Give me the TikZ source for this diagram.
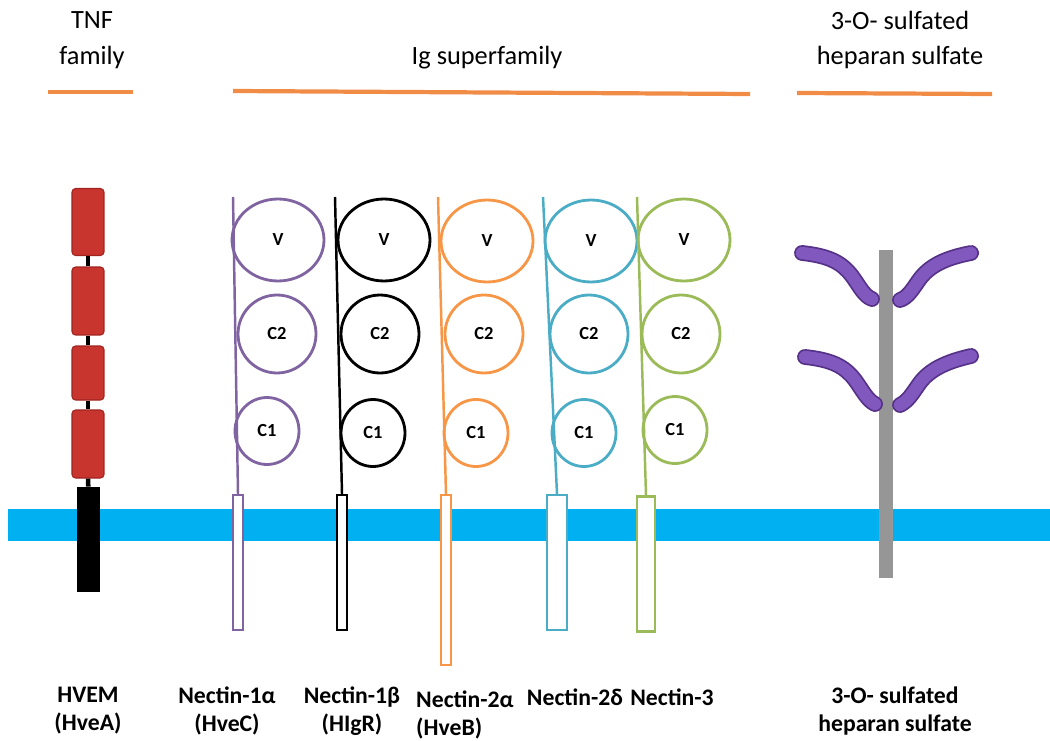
\documentclass[tikz,border=0pt]{standalone}
\usepackage{fontspec}
\setmainfont{Carlito}
\usetikzlibrary{shapes.geometric}
\definecolor{famorange}{RGB}{240,140,70}
\definecolor{membblue}{RGB}{0,176,240}
\definecolor{tnfred}{RGB}{200,52,46}
\definecolor{tnfdark}{RGB}{160,36,32}
\definecolor{npurple}{RGB}{128,100,162}
\definecolor{norange}{RGB}{247,150,70}
\definecolor{nteal}{RGB}{75,172,198}
\definecolor{ngreen}{RGB}{155,187,89}
\definecolor{hsgray}{RGB}{150,150,150}
\definecolor{sugarpurple}{RGB}{128,88,190}
\definecolor{sugardark}{RGB}{85,50,135}

\begin{document}
\begin{tikzpicture}[
  x=0.02cm, y=-0.02cm,
  family/.style={font=\fontsize{15}{20.4}\selectfont,align=center},
  famline/.style={line width=2.4pt,famorange},
  rname/.style={font=\bfseries\fontsize{13.5}{15.9}\selectfont,align=center},
  vdom/.style={draw,ellipse,line width=1.6pt,inner sep=0pt,minimum width=1.84cm,minimum height=1.64cm,font=\bfseries\fontsize{10.5}{12}\selectfont},
  ctwo/.style={vdom,minimum width=1.56cm,minimum height=1.56cm},
  cone/.style={vdom,minimum width=1.28cm,minimum height=1.34cm},
  tm/.style={draw,rectangle,line width=1.3pt,fill=white,inner sep=0pt,minimum width=0.2cm,minimum height=2.7cm},
  stalk/.style={line width=1.4pt},
  crd/.style={draw=tnfdark,fill=tnfred,rounded corners=2pt,line width=0.6pt,inner sep=0pt,minimum width=0.64cm},
  sugar/.style={line width=7pt,line cap=round,sugarpurple,preaction={draw=sugardark,line width=9pt,line cap=round}}
]
\useasboundingbox (0,0) rectangle (1050,740);

% families
\node[family] (tnf) at (92,40) {TNF\\family};
\node[family] (igsf) at (487,58) {Ig superfamily};
\node[family] (hsfam) at (900,40) {3-O- sulfated\\heparan sulfate};
\draw[famline] (48,92) -- (133,92);
\draw[famline] (233,91) -- (750,94);
\draw[famline] (797,93) -- (992,94);

% membrane
\fill[membblue] (8,509) rectangle (1050,541);

% HVEM
\node[crd,minimum height=1.34cm] (d1) at (88,222) {};
\node[crd,minimum height=1.36cm] (d2) at (88,301) {};
\node[crd,minimum height=1.08cm] (d3) at (88,373) {};
\node[crd,minimum height=1.36cm] (d4) at (88,444) {};
\node[fill=black,inner sep=0pt,minimum width=0.46cm,minimum height=2.1cm] (tm0) at (88.5,539.5) {};
\draw[line width=2.6pt] (d1) -- (d2);
\draw[line width=2.6pt] (d2) -- (d3);
\draw[line width=2.6pt] (d3) -- (d4);
\draw[line width=2.6pt] (d4) -- (tm0);

% Nectin-1 alpha
\coordinate (s1) at (233,197);
\node[vdom,draw=npurple] (v1) at (278,240) {V};
\node[ctwo,draw=npurple] (ctwo1) at (277,334) {C2};
\node[cone,draw=npurple] (cone1) at (267,431) {C1};
\node[tm,draw=npurple] (tm1) at (238,562.5) {};
\draw[stalk,npurple] (s1) -- (tm1.north);

% Nectin-1 beta
\coordinate (s2) at (335,197);
\node[vdom] (v2) at (384,240) {V};
\node[ctwo] (ctwo2) at (380,334) {C2};
\node[cone] (cone2) at (373,433) {C1};
\node[tm] (tm2) at (342,562.5) {};
\draw[stalk] (s2) -- (tm2.north);

% Nectin-2 alpha
\coordinate (s3) at (438,197);
\node[vdom,draw=norange] (v3) at (487,241) {V};
\node[ctwo,draw=norange] (ctwo3) at (484,334) {C2};
\node[cone,draw=norange] (cone3) at (476,433) {C1};
\node[tm,draw=norange,minimum height=3.4cm] (tm3) at (446,580) {};
\draw[stalk,norange] (s3) -- (tm3.north);

% Nectin-2 delta
\coordinate (s4) at (543,197);
\node[vdom,draw=nteal] (v4) at (591,241) {V};
\node[ctwo,draw=nteal] (ctwo4) at (589,334) {C2};
\node[cone,draw=nteal] (cone4) at (584,433) {C1};
\node[tm,draw=nteal,minimum width=0.4cm] (tm4) at (557,562.5) {};
\draw[stalk,nteal] (s4) -- (tm4.north);

% Nectin-3
\coordinate (s5) at (637,197);
\node[vdom,draw=ngreen] (v5) at (684,240) {V};
\node[ctwo,draw=ngreen] (ctwo5) at (681,334) {C2};
\node[cone,draw=ngreen] (cone5) at (675,430) {C1};
\node[tm,draw=ngreen,minimum width=0.36cm] (tm5) at (646,564) {};
\draw[stalk,ngreen] (s5) -- (tm5.north);

% heparan sulfate
\node[fill=hsgray,inner sep=0pt,minimum width=0.28cm,minimum height=6.56cm] (hs) at (886,414) {};
\draw[sugar] (802,253) .. controls (830,256) and (842,263) .. (852,276) .. controls (860,287) and (864,296) .. (872,299);
\draw[sugar] (900,300) .. controls (908,297) and (912,290) .. (919,280) .. controls (929,266) and (945,258) .. (971,253);
\draw[sugar] (805,357) .. controls (833,360) and (845,367) .. (855,380) .. controls (863,391) and (867,400) .. (875,404);
\draw[sugar] (900,405) .. controls (908,401) and (912,394) .. (919,384) .. controls (929,370) and (945,362) .. (971,356);

% names
\node[rname] (hvem) at (88,711) {HVEM\\(HveA)};
\node[rname] (n1a) at (227,711) {Nectin-1α\\(HveC)};
\node[rname] (n1b) at (352,711) {Nectin-1β\\(HIgR)};
\node[rname,align=left,anchor=west] (n2a) at (410,715) {Nectin-2α\\(HveB)};
\node[rname] (n2d) at (575,697) {Nectin-2δ};
\node[rname] (n3) at (672,697) {Nectin-3};
\node[rname] (hsname) at (895,711) {3-O- sulfated\\heparan sulfate};
\end{tikzpicture}
\end{document}
